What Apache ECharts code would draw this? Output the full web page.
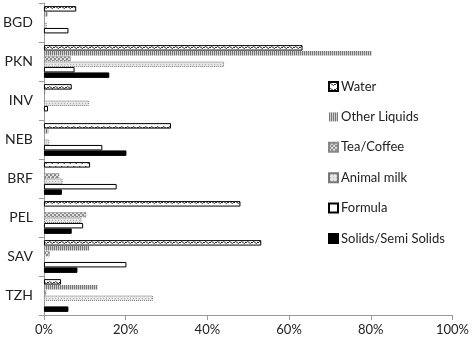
<!DOCTYPE html>
<html>
<head>
<meta charset="utf-8">
<script src="https://cdn.jsdelivr.net/npm/echarts@6/dist/echarts.min.js"></script>
<style>
  html, body { margin: 0; padding: 0; background: #fff; }
  #chart { width: 472px; height: 338px; }
</style>
</head>
<body>
<div id="chart"></div>
<script>
// sites (top to bottom)
var sites = ['BGD', 'PKN', 'INV', 'NEB', 'BRF', 'PEL', 'SAV', 'TZH'];
var xTicks = [0, 20, 40, 60, 80, 100];

// percentages
var water        = [7.9, 63.3, 6.8, 31.1, 11.3, 48.1, 53.2, 4.2];
var otherLiquids = [1.1, 80.4, 0.5, 1.2, 0, 0, 11.2, 13.3];
var teaCoffee    = [0, 6.6, 0, 0, 3.8, 10.4, 1.5, 0.6];
var animalMilk   = [0.7, 44.1, 11.0, 1.3, 4.6, 9.2, 0, 26.7];
var formula      = [6.0, 7.5, 1.0, 14.3, 17.8, 9.6, 20.2, 0];
var solids       = [0, 16.0, 0, 20.2, 4.4, 6.8, 8.2, 6.0];

/**
 * 生成填充图案
 */
function makePattern(w, h, draw) {
    var c = document.createElement('canvas');
    c.width = w;
    c.height = h;
    var ctx = c.getContext('2d');
    draw(ctx);
    return { image: c, repeat: 'repeat' };
}

var wavePattern = makePattern(6, 5, function (ctx) {
    ctx.fillStyle = '#fff';
    ctx.fillRect(0, 0, 6, 5);
    ctx.strokeStyle = '#333';
    ctx.lineWidth = 1;
    ctx.beginPath();
    ctx.moveTo(0, 3);
    ctx.lineTo(1.5, 1.5);
    ctx.lineTo(4.5, 3.5);
    ctx.lineTo(6, 2);
    ctx.stroke();
});

var stripePattern = makePattern(2, 2, function (ctx) {
    ctx.fillStyle = '#cfcfcf';
    ctx.fillRect(0, 0, 2, 2);
    ctx.fillStyle = '#777';
    ctx.fillRect(0, 0, 1, 2);
});

var checkPattern = makePattern(4, 4, function (ctx) {
    ctx.fillStyle = '#e0e0e0';
    ctx.fillRect(0, 0, 4, 4);
    ctx.fillStyle = '#8a8a8a';
    ctx.fillRect(0, 0, 2, 2);
    ctx.fillRect(2, 2, 2, 2);
});

var dotPattern = makePattern(3, 3, function (ctx) {
    ctx.fillStyle = '#e6e6e6';
    ctx.fillRect(0, 0, 3, 3);
    ctx.fillStyle = '#b0b0b0';
    ctx.fillRect(1, 1, 1, 1);
});

function seriesData(arr) {
    return arr.map(function (v) { return v === 0 ? '-' : v; });
}

var seriesDefs = [
    { name: 'Water', data: water, color: wavePattern, border: '#000', type: 'solid' },
    { name: 'Other Liquids', data: otherLiquids, color: stripePattern, border: 'transparent', type: 'solid' },
    { name: 'Tea/Coffee', data: teaCoffee, color: checkPattern, border: '#888', type: 'dotted' },
    { name: 'Animal milk', data: animalMilk, color: dotPattern, border: '#777', type: 'dotted' },
    { name: 'Formula', data: formula, color: '#fff', border: '#000', type: 'solid' },
    { name: 'Solids/Semi Solids', data: solids, color: '#000', border: '#000', type: 'solid' }
];

var series = seriesDefs.map(function (s) {
    return {
        name: s.name,
        type: 'bar',
        data: seriesData(s.data),
        barGap: '0%',
        barCategoryGap: '16%',
        itemStyle: {
            color: s.color,
            borderColor: s.border,
            borderWidth: 1,
            borderType: s.type
        },
        emphasis: { disabled: true }
    };
});

var option = {
    animation: false,
    textStyle: { fontFamily: 'Lato' },
    grid: { left: 42, right: 19, top: 3, bottom: 23 },
    legend: {
        orient: 'vertical',
        left: 323,
        top: 75,
        itemWidth: 9,
        itemHeight: 9,
        itemGap: 17.4,
        icon: 'rect',
        textStyle: { fontFamily: 'Lato', fontSize: 13, color: '#222', padding: [0, 0, 0, -2] },
        data: seriesDefs.map(function (s) { return s.name; })
    },
    xAxis: {
        type: 'value',
        min: 0,
        max: 100,
        interval: 20,
        splitLine: { show: false },
        axisLine: { show: true, lineStyle: { color: '#9a9a9a' } },
        axisTick: { show: true, length: 5, lineStyle: { color: '#9a9a9a' } },
        axisLabel: {
            formatter: function (v) { return v + '%'; },
            fontSize: 13,
            color: '#222',
            margin: 8
        }
    },
    yAxis: {
        type: 'category',
        inverse: true,
        data: sites,
        axisLine: { show: true, lineStyle: { color: '#9a9a9a' } },
        axisTick: { show: true, length: 5, lineStyle: { color: '#9a9a9a' } },
        axisLabel: { fontSize: 14, color: '#222', margin: 11 }
    },
    series: series
};

var chart = echarts.init(document.getElementById('chart'));
chart.setOption(option);
</script>
</body>
</html>
